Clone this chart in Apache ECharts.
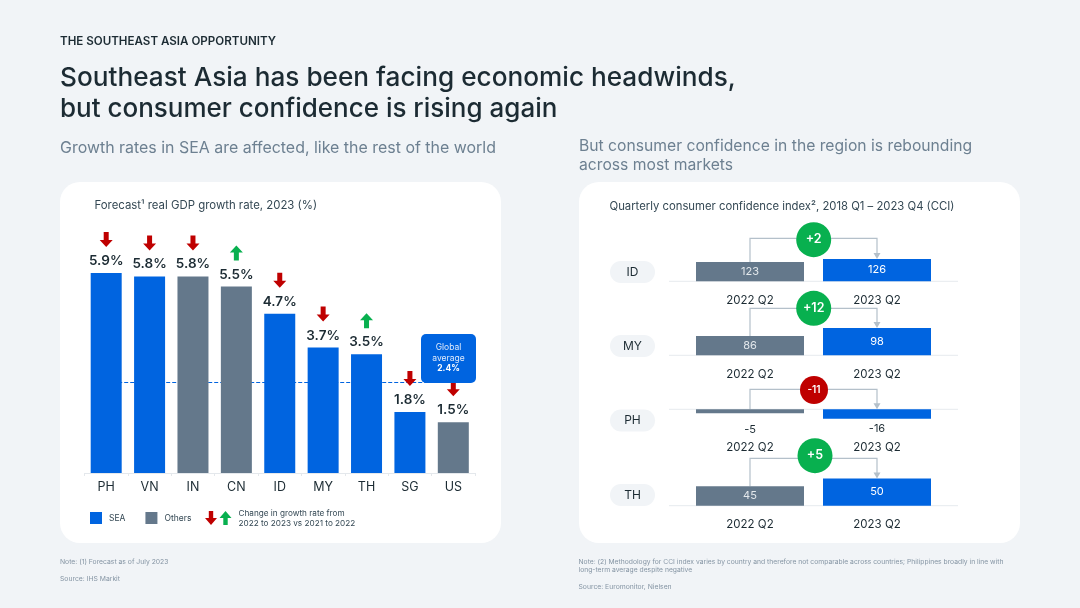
<!DOCTYPE html>
<html>
<head>
<meta charset="utf-8">
<style>
  html, body { margin: 0; padding: 0; background: #f1f4f7; }
  #chart { width: 1080px; height: 608px; }
</style>
<script src="https://cdn.jsdelivr.net/npm/echarts@6/dist/echarts.min.js"></script>
</head>
<body>
<div id="chart"></div>
<script>
// left chart
const gdpCountries = ['PH', 'VN', 'IN', 'CN', 'ID', 'MY', 'TH', 'SG', 'US'];
const gdpSea = [5.9, 5.8, null, null, 4.7, 3.7, 3.5, 1.8, null];
const gdpOthers = [null, null, 5.8, 5.5, null, null, null, null, 1.5];
const gdpChange = ['down', 'down', 'down', 'up', 'down', 'down', 'up', 'down', 'down'];
const globalAverage = 2.4;
const globalAverageDrawnAt = 2.68; // the dashed line sits here in the picture, above 2.4

// right chart
const cciCountries = ['ID', 'MY', 'PH', 'TH'];
const cciPeriods = ['2022 Q2', '2023 Q2'];
const cci2022 = [123, 86, -5, 45];
const cci2023 = [126, 98, -16, 50];
const cciChange = ['+2', '+12', '-11', '+5'];
const cciAxisMin = [103.7, 57, -68.6, 32.4]; // the source truncates each axis differently
const cciAxisMax = [143.7, 117, 0, 58.2];

const FONT = 'Inter, "Noto Sans", sans-serif';
const DARK = '#1c2b33';
const BLUE = '#0064e0';
const GREY = '#64788b';
const RED = '#bf0000';
const GREEN = '#08b04f';
const MUTED = '#6d8091';
const NOTE = '#8595a4';
const ARROW_DOWN = 'path://M4,0 L9,0 L9,8 L13,8 L6.5,15 L0,8 L4,8 Z';
const ARROW_UP = 'path://M6.5,0 L13,7 L9,7 L9,15 L4,15 L4,7 L0,7 Z';

// pixel layout of the four small panels
const panels = [
  { baseline: 281.3, lineY: 238.3, badgeX: 813.7, badgeY: 239.7, badgeR: 17.5, badgeFont: 12.5, pillY: 272, margin: 13 },
  { baseline: 355.3, lineY: 308.3, badgeX: 813.7, badgeY: 308.3, badgeR: 17.5, badgeFont: 12.5, pillY: 346, margin: 13 },
  { baseline: 409.3, lineY: 389.3, badgeX: 814, badgeY: 390, badgeR: 14, badgeFont: 10, pillY: 420.5, margin: 32 },
  { baseline: 505.7, lineY: 458.3, badgeX: 815, badgeY: 455.7, badgeR: 17.5, badgeFont: 12.5, pillY: 495, margin: 13 }
];
const panelHeight = 40;
const lineColor = '#b4c0ca';

function txt(x, y, text, size, fill, weight) {
  return {
    type: 'text', x: x, y: y, z: 3,
    style: { text: text, fontFamily: FONT, fontSize: size, fill: fill, fontWeight: weight || 400, verticalAlign: 'middle' }
  };
}

function card(x, y, w, h) {
  return {
    type: 'rect', z: -1,
    shape: { x: x, y: y, width: w, height: h, r: 20 },
    style: { fill: '#fff' }
  };
}

// key arrow, 12 wide and 14 high
function keyArrow(x, y, up, fill) {
  const pts = [[3.8, 0], [8.2, 0], [8.2, 7], [12, 7], [6, 14], [0, 7], [3.8, 7]];
  return {
    type: 'polygon', z: 3,
    shape: { points: pts.map((p) => [x + p[0], y + (up ? 14 - p[1] : p[1])]) },
    style: { fill: fill }
  };
}

// baseline, pill, elbow connector and change badge of one panel
function renderPanel(idx) {
  return function (params, api) {
    const p = panels[idx];
    const grid = params.coordSys;
    const start = api.coord([0, Math.max(cci2022[idx], 0)]);
    const end = api.coord([1, Math.max(cci2023[idx], 0)]);
    const axisY = grid.y + (cci2022[idx] < 0 ? 0 : grid.height);
    const tip = end[1];
    return {
      type: 'group',
      children: [
        { type: 'line', shape: { x1: 669, y1: axisY, x2: 958, y2: axisY }, style: { stroke: '#e6eaee', lineWidth: 1 } },
        { type: 'rect', shape: { x: 610, y: p.pillY - 11, width: 45, height: 22, r: 11 }, style: { fill: '#f1f4f7' } },
        { type: 'text', style: { text: cciCountries[idx], x: 632.5, y: p.pillY, align: 'center', verticalAlign: 'middle', fontFamily: FONT, fontSize: 12, fill: DARK } },
        { type: 'polyline', shape: { points: [[start[0], start[1]], [start[0], p.lineY], [end[0], p.lineY], [end[0], tip - 5]] }, style: { stroke: lineColor, lineWidth: 1.2, fill: 'none' } },
        { type: 'polygon', shape: { points: [[end[0] - 3.5, tip - 6], [end[0] + 3.5, tip - 6], [end[0], tip]] }, style: { fill: lineColor } },
        { type: 'circle', shape: { cx: p.badgeX, cy: p.badgeY, r: p.badgeR }, style: { fill: cciChange[idx].charAt(0) === '-' ? RED : GREEN } },
        { type: 'text', style: { text: cciChange[idx], x: p.badgeX, y: p.badgeY, align: 'center', verticalAlign: 'middle', fontFamily: FONT, fontSize: p.badgeFont, fontWeight: 600, fill: '#fff' } }
      ]
    };
  };
}

const grids = [{ left: 84.5, width: 390.5, top: 473 - 6 * 33.9, height: 6 * 33.9 }];
const xAxes = [{
  type: 'category', gridIndex: 0, data: gdpCountries,
  axisLine: { lineStyle: { color: '#e4e8ec', width: 1 } },
  axisTick: { show: true, length: 3, alignWithLabel: false, lineStyle: { color: '#e4e8ec' } },
  axisLabel: { color: DARK, fontFamily: FONT, fontSize: 12.5, margin: 8 }
}];
const yAxes = [{ type: 'value', gridIndex: 0, min: 0, max: 6, show: false }];

const gdpLabel = {
  show: true, position: 'top', distance: 5,
  color: DARK, fontFamily: FONT, fontSize: 13.5, fontWeight: 600,
  formatter: (p) => p.value.toFixed(1) + '%'
};

const series = [
  {
    name: 'SEA', type: 'bar', stack: 'gdp', xAxisIndex: 0, yAxisIndex: 0, barWidth: 31, z: 3,
    itemStyle: { color: BLUE }, label: gdpLabel, data: gdpSea,
    markLine: {
      silent: true, symbol: 'none', z: 1, label: { show: false },
      lineStyle: { color: BLUE, type: [4, 2], width: 1.2 },
      data: [[{ xAxis: 'PH', yAxis: globalAverageDrawnAt }, { xAxis: 'US', yAxis: globalAverageDrawnAt }]]
    }
  },
  {
    name: 'Others', type: 'bar', stack: 'gdp', xAxisIndex: 0, yAxisIndex: 0, barWidth: 31, z: 3,
    itemStyle: { color: GREY }, label: gdpLabel, data: gdpOthers
  },
  {
    name: 'Change', type: 'scatter', xAxisIndex: 0, yAxisIndex: 0, z: 4, clip: false,
    symbolSize: [13, 15], symbolOffset: [0, -33.5],
    data: gdpCountries.map((c, i) => ({
      value: [c, gdpSea[i] != null ? gdpSea[i] : gdpOthers[i]],
      symbol: gdpChange[i] === 'up' ? ARROW_UP : ARROW_DOWN,
      itemStyle: { color: gdpChange[i] === 'up' ? GREEN : RED, opacity: 1 }
    }))
  }
];

panels.forEach((p, i) => {
  const gi = i + 1;
  const negative = cci2022[i] < 0;
  grids.push({ left: 686.5, width: 254, top: negative ? p.baseline : p.baseline - panelHeight, height: panelHeight });
  xAxes.push({
    type: 'category', gridIndex: gi, data: cciPeriods, position: 'bottom',
    axisLine: { show: false, onZero: false }, axisTick: { show: false },
    axisLabel: { color: DARK, fontFamily: FONT, fontSize: 11.5, margin: negative ? p.margin - panelHeight : p.margin }
  });
  yAxes.push({ type: 'value', gridIndex: gi, min: cciAxisMin[i], max: cciAxisMax[i], show: false });
  series.push({
    type: 'custom', xAxisIndex: gi, yAxisIndex: gi, z: 1, silent: true,
    renderItem: renderPanel(i),
    encode: { x: 0, y: 1 },
    data: [[0, cci2022[i], cci2023[i]]]
  });
  series.push({
    type: 'bar', xAxisIndex: gi, yAxisIndex: gi, barWidth: 108, z: 3, barMinHeight: negative ? 4 : 0,
    label: {
      show: true, position: negative ? 'bottom' : 'inside',
      fontFamily: FONT, fontSize: 11, color: negative ? DARK : '#fff'
    },
    data: [
      { value: cci2022[i], itemStyle: { color: GREY }, label: negative ? { distance: 11 } : { color: '#e3e8ec' } },
      { value: cci2023[i], itemStyle: { color: BLUE }, label: negative ? { distance: 5 } : {} }
    ]
  });
});

const graphics = [
  card(60, 182, 441, 361),
  card(579, 182, 441, 361),
  txt(60, 41.5, 'THE SOUTHEAST ASIA OPPORTUNITY', 11.6, DARK, 600),
  txt(60, 78, 'Southeast Asia has been facing economic headwinds,', 26.2, DARK, 500),
  txt(60, 109.5, 'but consumer confidence is rising again', 26, DARK, 500),
  txt(60, 148, 'Growth rates in SEA are affected, like the rest of the world', 15.95, MUTED),
  txt(579, 146.5, 'But consumer confidence in the region is rebounding', 15.7, MUTED),
  txt(579, 165.5, 'across most markets', 15.7, MUTED),
  txt(94.5, 206, 'Forecast¹ real GDP growth rate, 2023 (%)', 11.4, '#344854'),
  txt(609.5, 206.5, 'Quarterly consumer confidence index², 2018 Q1 – 2023 Q4 (CCI)', 11.3, '#344854'),
  // global average callout
  { type: 'rect', z: 10, shape: { x: 421, y: 334, width: 55, height: 49, r: 5 }, style: { fill: BLUE } },
  { type: 'text', z: 11, style: { text: 'Global', x: 448.5, y: 347, align: 'center', verticalAlign: 'middle', fontFamily: FONT, fontSize: 8.5, fill: '#dfeafb' } },
  { type: 'text', z: 11, style: { text: 'average', x: 448.5, y: 358.5, align: 'center', verticalAlign: 'middle', fontFamily: FONT, fontSize: 8.5, fill: '#dfeafb' } },
  { type: 'text', z: 11, style: { text: globalAverage.toFixed(1) + '%', x: 448.5, y: 368.5, align: 'center', verticalAlign: 'middle', fontFamily: FONT, fontSize: 8.5, fontWeight: 700, fill: '#fff' } },
  // arrow key next to the legend
  keyArrow(205, 511, false, RED),
  keyArrow(219.5, 511, true, GREEN),
  txt(238.5, 514, 'Change in growth rate from', 8.2, '#344854'),
  txt(238.5, 524, '2022 to 2023 vs 2021 to 2022', 8.2, '#344854'),
  // footnotes
  txt(60, 561.5, 'Note: (1) Forecast as of July 2023', 6.8, NOTE),
  txt(60, 578.5, 'Source: IHS Markit', 6.8, NOTE),
  txt(578.5, 561.5, 'Note: (2) Methodology for CCI index varies by country and therefore not comparable across countries; Philippines broadly in line with', 6.75, NOTE),
  txt(578.5, 569.5, 'long-term average despite negative', 6.75, NOTE),
  txt(578.5, 586.5, 'Source: Euromonitor, Nielsen', 6.8, NOTE)
];

const chart = echarts.init(document.getElementById('chart'));
chart.setOption({
  animation: false,
  backgroundColor: '#f1f4f7',
  textStyle: { fontFamily: FONT },
  legend: {
    data: ['SEA', 'Others'], left: 90, top: 512, icon: 'rect', itemWidth: 12, itemHeight: 12,
    itemGap: 20, padding: 0, selectedMode: false,
    textStyle: { color: '#344854', fontFamily: FONT, fontSize: 8.5, padding: [0, 0, 0, 2] }
  },
  graphic: graphics,
  grid: grids,
  xAxis: xAxes,
  yAxis: yAxes,
  series: series
});
</script>
</body>
</html>
